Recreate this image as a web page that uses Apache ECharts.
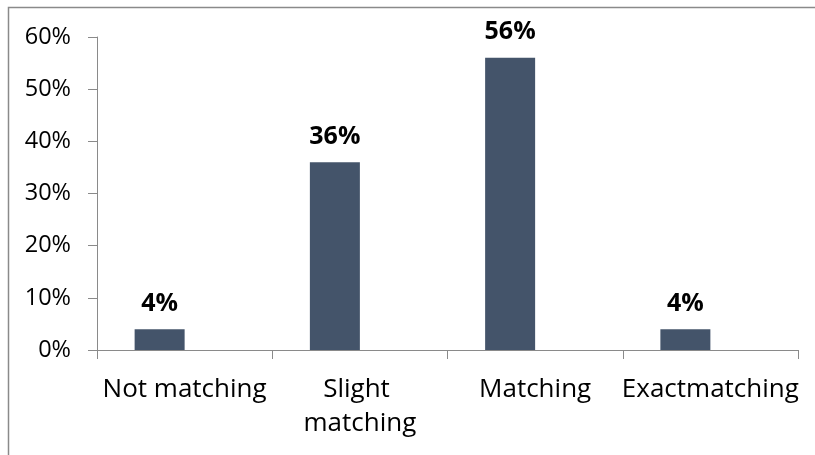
<!DOCTYPE html>
<html>
<head>
<meta charset="utf-8">
<script src="https://cdn.jsdelivr.net/npm/echarts@6/dist/echarts.min.js"></script>
<style>html,body{margin:0;padding:0;background:#fff;}#chart{width:815px;height:455px;}</style>
</head>
<body>
<div id="chart"></div>
<script>
const categories = ['Not matching', 'Slight matching', 'Matching', 'Exactmatching'];
const values = [4, 36, 56, 4];
const yTicks = [0, 10, 20, 30, 40, 50, 60];

const FONT = 'Open Sans';
const chart = echarts.init(document.getElementById('chart'));
chart.setOption({
  animation: false,
  backgroundColor: '#ffffff',
  graphic: [{
    type: 'rect', shape: { x: 8.5, y: 7.5, width: 1000, height: 1000 },
    style: { fill: 'none', stroke: '#8a8a8a', lineWidth: 1.5 }, silent: true, z: 100
  }],
  grid: { left: 97, right: 17, top: 37, bottom: 105, containLabel: false },
  xAxis: {
    type: 'category', data: categories,
    axisLine: { show: true, lineStyle: { color: '#8a8a8a', width: 1 } },
    axisTick: { show: true, length: 9, alignWithLabel: false, lineStyle: { color: '#8a8a8a' } },
    axisLabel: { color: '#000', fontFamily: FONT, fontSize: 26, margin: 23, lineHeight: 34,
      width: 178, overflow: 'break', interval: 0 }
  },
  yAxis: {
    type: 'value', min: yTicks[0], max: yTicks[yTicks.length - 1], interval: 10,
    axisLine: { show: true, lineStyle: { color: '#8a8a8a', width: 1 } },
    axisTick: { show: true, length: 9, lineStyle: { color: '#8a8a8a' } },
    splitLine: { show: false },
    axisLabel: { color: '#000', fontFamily: FONT, fontSize: 23.5, margin: 26, formatter: '{value}%' }
  },
  series: [{
    type: 'bar', data: values, barWidth: 50, barGap: '0%',
    itemStyle: { color: '#44546A' },
    label: { show: true, position: 'top', distance: 13, formatter: '{c}%',
      color: '#000', fontFamily: FONT, fontWeight: 'bold', fontSize: 25 }
  }, {
    type: 'bar', data: values.map(() => null), barWidth: 50, barGap: '0%'
  }]
});
</script>
</body>
</html>
